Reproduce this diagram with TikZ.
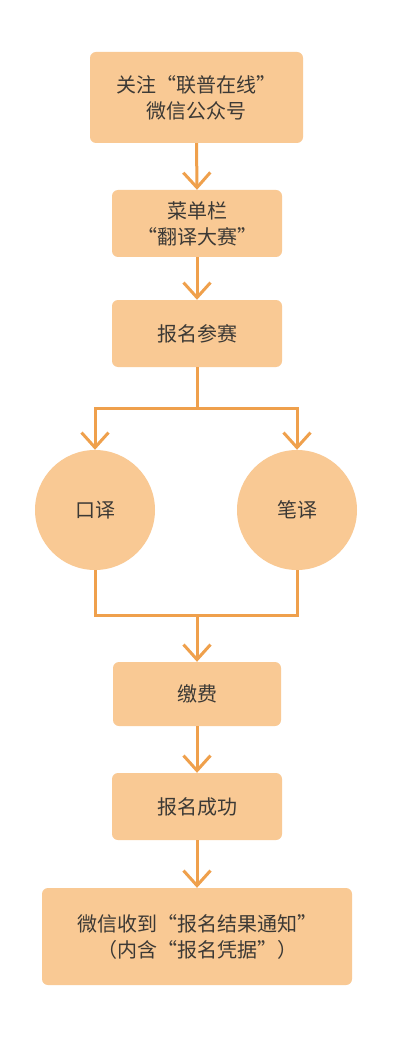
\documentclass[tikz,border=0pt]{standalone}
\usepackage{fontspec}
\newfontfamily\cjk{Noto Sans CJK SC}
\usepackage{tikz}
\usetikzlibrary{arrows.meta}
\definecolor{boxfill}{HTML}{F9C994}
\definecolor{flowline}{HTML}{EFA04C}
\definecolor{boxtext}{HTML}{3C3935}
\tikzset{
  stepbox/.style={fill=boxfill,rounded corners=6pt,inner sep=0pt,align=center,text=boxtext,font=\cjk\fontsize{20}{26}\selectfont},
  roundbox/.style={circle,fill=boxfill,minimum size=120pt,inner sep=0pt,text=boxtext,font=\cjk\fontsize{20}{26}\selectfont},
  flow/.style={draw=flowline,line width=3pt},
  arr/.style={flow,-{Straight Barb[length=15pt,width=27pt]}}
}
\begin{document}
\begin{tikzpicture}[x=1pt,y=-1pt]
\fill[white] (0,0) rectangle (414,1040);
\draw (196.5,97.5) node[stepbox,minimum width=213pt,minimum height=91pt] (follow) {关注“联普在线”\\微信公众号};
\draw (197,223.5) node[stepbox,minimum width=170pt,minimum height=67pt] (menu) {菜单栏\\“翻译大赛”};
\draw (197,333.5) node[stepbox,minimum width=170pt,minimum height=67pt] (signup) {报名参赛};
\draw (95,510) node[roundbox] (oral) {口译};
\draw (297,510) node[roundbox] (written) {笔译};
\draw (197,694) node[stepbox,minimum width=168pt,minimum height=64pt] (fee) {缴费};
\draw (197,806.5) node[stepbox,minimum width=170pt,minimum height=67pt] (success) {报名成功};
\draw (197,936.5) node[stepbox,minimum width=310pt,minimum height=97pt] (notice) {微信收到“报名结果通知”\\（内含“报名凭据”）};
\coordinate (split) at (197,408);
\coordinate (join) at (197,615);

\draw[arr] (follow.south) -- (menu.north);
\draw[arr] (menu.south) -- (signup.north);
\draw[flow] (signup.south) -- (split);
\draw[arr] (split) -| (oral.north);
\draw[arr] (split) -| (written.north);
\draw[flow] (oral.south) |- (join);
\draw[flow] (written.south) |- (join);
\draw[arr] (join) -- (fee.north);
\draw[arr] (fee.south) -- (success.north);
\draw[arr] (success.south) -- (notice.north);
\end{tikzpicture}
\end{document}
